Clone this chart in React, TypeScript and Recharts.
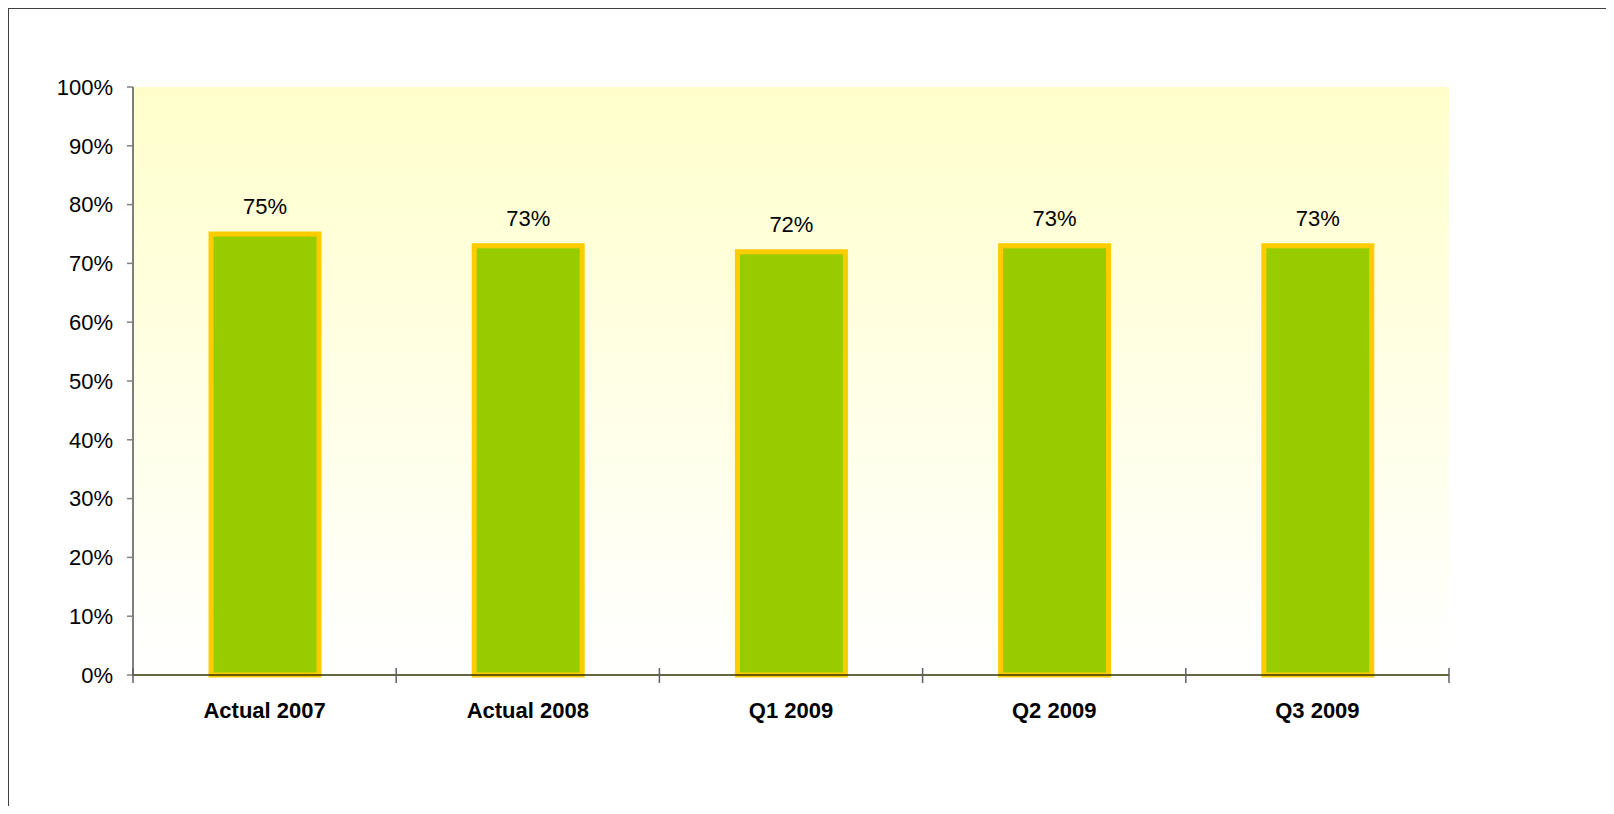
import React from "react";
import { BarChart, Bar, XAxis, YAxis, CartesianGrid, LabelList } from "recharts";

const categories = ["Actual 2007", "Actual 2008", "Q1 2009", "Q2 2009", "Q3 2009"];
const shares = [0.75, 0.73, 0.72, 0.73, 0.73];
const yTicks = [0, 0.1, 0.2, 0.3, 0.4, 0.5, 0.6, 0.7, 0.8, 0.9, 1];

const data = categories.map((c, i) => ({ name: c, value: shares[i] }));

const FONT = "'Liberation Sans', Arial, sans-serif";
const pct = (v: number) => `${Math.round(v * 100)}%`;
const TICK_MARGIN = 27;

const CategoryTick = (props: any) => {
  const { x, y, payload, index, visibleTicksCount } = props;
  const half = payload?.offset ?? 0;
  const axisY = y - TICK_MARGIN;
  const isLast = index === (visibleTicksCount ?? categories.length) - 1;
  const tickStyle = { stroke: "#606060", strokeWidth: 1.5 };
  return (
    <g>
      <line x1={x - half} x2={x - half} y1={axisY - 7} y2={axisY + 8} {...tickStyle} />
      {isLast && (
        <line x1={x + half} x2={x + half} y1={axisY - 7} y2={axisY + 8} {...tickStyle} />
      )}
      <text
        x={x}
        y={y}
        dy="0.71em"
        textAnchor="middle"
        fill="#000"
        fontSize={22}
        fontWeight="bold"
        fontFamily={FONT}
      >
        {payload.value}
      </text>
    </g>
  );
};

export default function App() {
  return (
    <div
      style={{
        borderLeft: "1px solid #404040",
        borderTop: "1px solid #404040",
        width: 1597,
        height: 805,
        marginBottom: -8,
        overflow: "hidden",
        background: "#fff",
        fontFamily: FONT,
      }}
    >
      <BarChart
        width={1597}
        height={797}
        data={data}
        margin={{ top: 78, right: 157, left: 64, bottom: 71 }}
      >
        <defs>
          <linearGradient id="plotBg" x1="0" y1="0" x2="0" y2="1">
            <stop offset="0%" stopColor="#FFFFCC" />
            <stop offset="100%" stopColor="#FFFFFF" />
          </linearGradient>
        </defs>
        <CartesianGrid horizontal={false} vertical={false} fill="url(#plotBg)" />
        <XAxis
          dataKey="name"
          height={60}
          axisLine={{ stroke: "#333300", strokeWidth: 1.5 }}
          tickLine={false}
          tickSize={0}
          tickMargin={TICK_MARGIN}
          interval={0}
          tick={<CategoryTick />}
        />
        <YAxis
          domain={[0, 1]}
          ticks={yTicks}
          width={60}
          interval={0}
          tickFormatter={pct}
          tickSize={6}
          tickMargin={14}
          axisLine={{ stroke: "#000", strokeWidth: 1 }}
          tickLine={{ stroke: "#808080", strokeWidth: 1.5 }}
          tick={{ fill: "#000", fontSize: 22, fontFamily: FONT }}
        />
        <Bar
          dataKey="value"
          fill="#99CC00"
          stroke="#FFCC00"
          strokeWidth={5}
          barSize={108}
          isAnimationActive={false}
        >
          <LabelList
            dataKey="value"
            position="top"
            offset={20}
            formatter={(v: any) => pct(Number(v))}
            style={{ fill: "#000", fontSize: 22, fontFamily: FONT }}
          />
        </Bar>
      </BarChart>
    </div>
  );
}
